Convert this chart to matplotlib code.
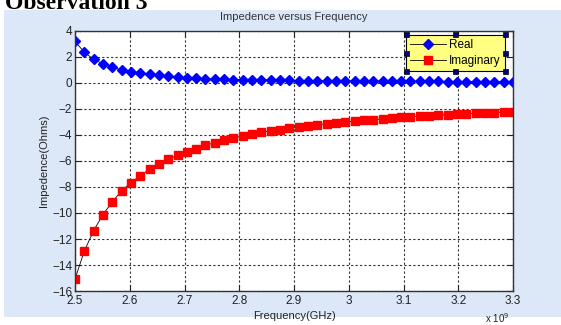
import numpy as np
import matplotlib
matplotlib.use("Agg")
import matplotlib.pyplot as plt
from matplotlib.patches import Rectangle
from matplotlib.ticker import FuncFormatter

plt.rcParams['font.family'] = ['Liberation Sans', 'DejaVu Sans']

# frequency sweep, 48 points from 2.5 GHz to 3.3 GHz (in Hz)
freq = np.linspace(2.5e9, 3.3e9, 48)

real = [3.20, 2.37, 1.82, 1.47, 1.23, 0.99, 0.88, 0.78, 0.67, 0.60,
        0.53, 0.47, 0.41, 0.38, 0.33, 0.30, 0.28, 0.26, 0.25, 0.24,
        0.23, 0.22, 0.21, 0.20, 0.19, 0.18, 0.18, 0.17, 0.16, 0.16,
        0.15, 0.15, 0.14, 0.14, 0.13, 0.13, 0.13, 0.12, 0.12, 0.12,
        0.11, 0.11, 0.11, 0.11, 0.10, 0.10, 0.10, 0.10]

imag = [-15.08, -12.92, -11.36, -10.12, -9.14, -8.30, -7.67, -7.13, -6.62, -6.20,
        -5.87, -5.56, -5.28, -5.05, -4.80, -4.59, -4.40, -4.22, -4.07, -3.93,
        -3.80, -3.69, -3.59, -3.49, -3.39, -3.29, -3.21, -3.14, -3.07, -3.00,
        -2.93, -2.87, -2.82, -2.77, -2.70, -2.65, -2.60, -2.56, -2.51, -2.47,
        -2.44, -2.40, -2.36, -2.33, -2.30, -2.27, -2.24, -2.22]

W, H = 561, 325
fig = plt.figure(figsize=(W / 100, H / 100), dpi=100)
fig.patch.set_facecolor('white')

# light blue figure panel
fig.add_artist(Rectangle((4 / W, 1 - 317 / H), 1 - 4 / W, (317 - 10) / H,
                         transform=fig.transFigure, facecolor='#dce8f8',
                         edgecolor='none', zorder=0))
fig.text(5 / W, 1 - 9 / H, 'Observation 3', family='Liberation Serif',
         fontweight='bold', fontsize=17, va='baseline', ha='left')

ax = fig.add_axes([75 / W, 1 - 291 / H, 438 / W, 260 / H])
ax.set_facecolor('white')

ax.plot(freq, real, '-', color='black', lw=0.6, marker='D', ms=5,
        mfc='blue', mec='blue', label='Real')
ax.plot(freq, imag, '-', color='black', lw=0.6, marker='s', ms=6,
        mfc='red', mec='red', label='Imaginary')

ax.set_xlim(2.5e9, 3.3e9)
ax.set_ylim(-16, 4)
ax.set_xticks(np.arange(2.5e9, 3.31e9, 0.1e9))
ax.set_yticks(np.arange(-16, 5, 2))
ax.xaxis.set_major_formatter(FuncFormatter(lambda v, p: f'{v / 1e9:g}'))
ax.tick_params(direction='in', length=4, top=True, right=True,
               labelsize=8.5, colors='#222222', pad=2)
ax.tick_params(axis='x', pad=3)
ax.grid(True, color='#333333', linestyle=(0, (2, 2)), lw=0.8)
for s in ax.spines.values():
    s.set_color('#333333')
    s.set_linewidth(1)

ax.set_title('Impedence versus Frequency', fontsize=8, color='#333333', pad=8)
ax.set_xlabel('Frequency(GHz)', fontsize=8, color='#222222', labelpad=3)
ax.set_ylabel('Impedence(Ohms)', fontsize=8, color='#222222', labelpad=2)
fig.text(497 / W, 1 - 323 / H, r'x 10$^{9}$', fontsize=7, color='#222222',
         ha='center', va='baseline')

leg = ax.legend(loc='upper right', bbox_to_anchor=(0.982, 0.985),
                borderaxespad=0, fontsize=8.5, fancybox=False,
                framealpha=1, handlelength=3, handletextpad=0.3,
                borderpad=0.35, labelspacing=0.35)
leg.get_frame().set_facecolor('#ffff80')
leg.get_frame().set_edgecolor('black')
leg.get_frame().set_linewidth(0.8)

# selection handles round the legend
fig.canvas.draw()
bb = leg.get_window_extent().transformed(fig.transFigure.inverted())
hw, hh = 5 / W, 5 / H
xs = [bb.x0, (bb.x0 + bb.x1) / 2, bb.x1]
ys = [bb.y0, (bb.y0 + bb.y1) / 2, bb.y1]
for xi in xs:
    for yi in ys:
        if xi == xs[1] and yi == ys[1]:
            continue
        fig.add_artist(Rectangle((xi - hw / 2, yi - hh / 2), hw, hh,
                                 transform=fig.transFigure, facecolor='#000080',
                                 edgecolor='black', lw=0.5, zorder=10))

fig.savefig('out.png', dpi=100)
